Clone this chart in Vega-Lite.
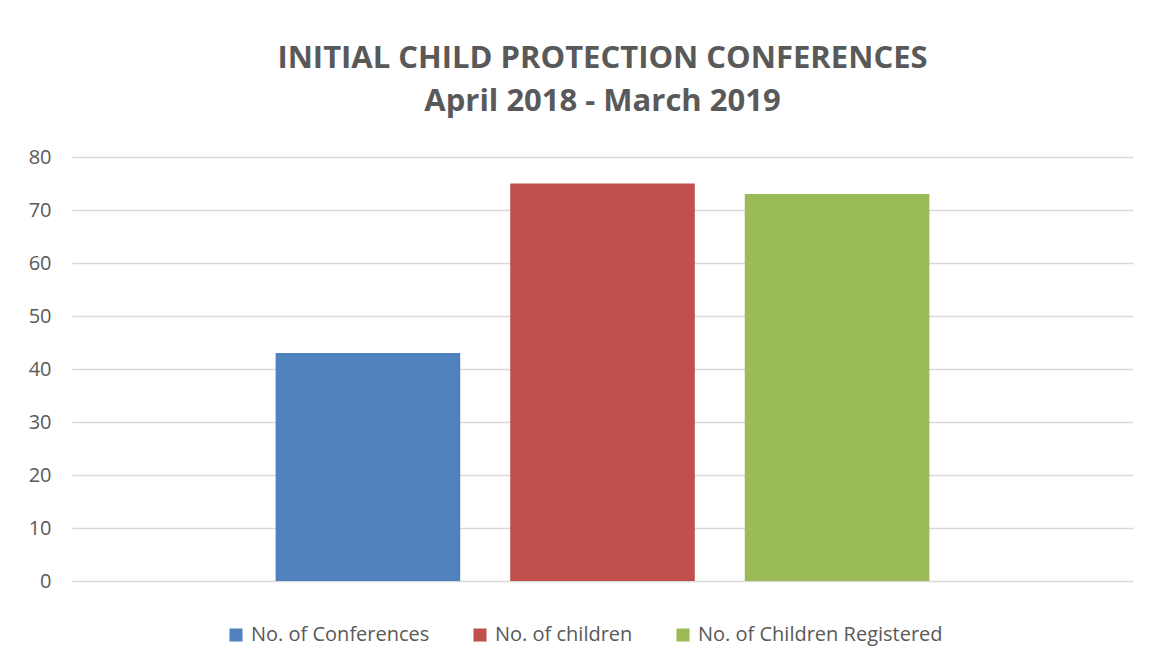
{
  "$schema": "https://vega.github.io/schema/vega-lite/v6.json",
  "width": 1061,
  "height": 424,
  "autosize": "none",
  "padding": {"left": 72, "top": 157, "right": 29, "bottom": 83},
  "background": "white",
  "title": {
    "text": ["INITIAL CHILD PROTECTION CONFERENCES", "April 2018 - March 2019"],
    "anchor": "middle",
    "frame": "group",
    "font": "Open Sans",
    "fontSize": 31,
    "fontWeight": "bold",
    "color": "#595959",
    "lineHeight": 43,
    "baseline": "bottom",
    "offset": -2
  },
  "data": {
    "values": [
      {"series": "No. of Conferences", "value": 43},
      {"series": "No. of children", "value": 75},
      {"series": "No. of Children Registered", "value": 73}
    ]
  },
  "mark": {"type": "bar"},
  "encoding": {
    "x": {
      "field": "series",
      "type": "nominal",
      "sort": null,
      "axis": null,
      "scale": {"paddingInner": 0.213, "paddingOuter": 0.868}
    },
    "y": {
      "field": "value",
      "type": "quantitative",
      "scale": {"domain": [0, 80]},
      "axis": {
        "title": null,
        "values": [0, 10, 20, 30, 40, 50, 60, 70, 80],
        "domain": false,
        "ticks": false,
        "labelPadding": 21,
        "labelFont": "Open Sans",
        "labelFontSize": 20,
        "labelColor": "#595959",
        "gridColor": "#d9d9d9",
        "gridWidth": 1.3
      }
    },
    "color": {
      "field": "series",
      "type": "nominal",
      "sort": null,
      "scale": {
        "domain": ["No. of Conferences", "No. of children", "No. of Children Registered"],
        "range": ["#4f81bd", "#c0504d", "#9bbb59"]
      },
      "legend": {
        "title": null,
        "orient": "none",
        "legendX": 154,
        "legendY": 468,
        "direction": "horizontal",
        "symbolType": "square",
        "symbolSize": 170,
        "symbolStrokeWidth": 0,
        "labelFont": "Open Sans",
        "labelFontSize": 20,
        "labelColor": "#595959",
        "labelOffset": 5,
        "columnPadding": 40,
        "labelLimit": 400
      }
    }
  },
  "config": {"view": {"stroke": null}}
}
